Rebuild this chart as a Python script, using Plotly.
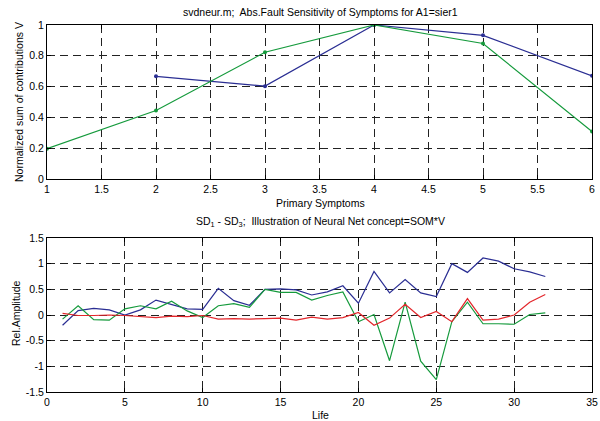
import plotly.graph_objects as go

# Top panel data
sym_x = [1, 2, 3, 4, 5, 6]
top_blue = [None, 0.667, 0.603, 1.0, 0.933, 0.67]
top_green = [0.197, 0.445, 0.823, 1.0, 0.88, 0.308]

# Bottom panel data
life = list(range(1, 33))
sd_blue = [-0.20, 0.085, 0.13, 0.10, 0.0, 0.10, 0.29, 0.21, 0.12, 0.11,
           0.52, 0.28, 0.19, 0.50, 0.51, 0.49, 0.39, 0.45, 0.57, 0.23,
           0.85, 0.43, 0.69, 0.43, 0.36, 1.0, 0.83, 1.11, 1.05, 0.90,
           0.84, 0.75]
sd_green = [-0.08, 0.18, -0.09, -0.10, 0.12, 0.18, 0.12, 0.27, 0.08, -0.05,
            0.18, 0.22, 0.15, 0.50, 0.44, 0.44, 0.29, 0.38, 0.45, -0.13,
            0.01, -0.89, 0.25, -0.90, -1.26, -0.13, 0.25, -0.17, -0.17, -0.18,
            0.01, 0.04]
sd_red = [0.03, -0.01, -0.01, 0.0, -0.01, -0.03, -0.05, -0.02, -0.03, -0.01,
          -0.08, -0.07, -0.08, -0.07, -0.06, -0.10, -0.04, -0.08, -0.05, 0.05,
          -0.20, -0.06, 0.21, -0.05, 0.07, -0.13, 0.32, -0.10, -0.08, 0.0,
          0.25, 0.40]

top_xticks = [1, 1.5, 2, 2.5, 3, 3.5, 4, 4.5, 5, 5.5, 6]
top_yticks = [0, 0.2, 0.4, 0.6, 0.8, 1]
bot_xticks = [0, 5, 10, 15, 20, 25, 30, 35]
bot_yticks = [-1.5, -1, -0.5, 0, 0.5, 1, 1.5]

BLUE = "#2a2e93"
GREEN = "#159a3c"
RED = "#e3262b"

fig = go.Figure()
fig.add_trace(go.Scatter(x=sym_x, y=top_blue, mode="lines+markers",
                         line=dict(color=BLUE, width=1.2),
                         marker=dict(size=4, color=BLUE), xaxis="x", yaxis="y",
                         connectgaps=False))
fig.add_trace(go.Scatter(x=sym_x, y=top_green, mode="lines+markers",
                         line=dict(color=GREEN, width=1.2),
                         marker=dict(size=4, color=GREEN), xaxis="x", yaxis="y"))
fig.add_trace(go.Scatter(x=life, y=sd_blue, mode="lines",
                         line=dict(color=BLUE, width=1.2), xaxis="x2", yaxis="y2"))
fig.add_trace(go.Scatter(x=life, y=sd_green, mode="lines",
                         line=dict(color=GREEN, width=1.2), xaxis="x2", yaxis="y2"))
fig.add_trace(go.Scatter(x=life, y=sd_red, mode="lines",
                         line=dict(color=RED, width=1.2), xaxis="x2", yaxis="y2"))

W, H = 600.0, 421.0
ML, MR, MT, MB = 47, 8, 25, 29
PH = H - MT - MB
PW = W - ML - MR


def ydom(top_px, bot_px):
    return [1 - (bot_px - MT) / PH, 1 - (top_px - MT) / PH]


def px_x(px):
    return (px - ML) / PW


def px_y(py):
    return 1 - (py - MT) / PH


FS = 10.5
axis_common = dict(showline=True, linecolor="black", linewidth=1, mirror="ticks",
                   ticks="inside", ticklen=4, tickcolor="black",
                   showgrid=True, gridcolor="#222222", gridwidth=1,
                   griddash="8px,5px", zeroline=False, automargin=False,
                   tickfont=dict(size=FS, color="black"))

fig.update_layout(
    width=600, height=421,
    margin=dict(l=ML, r=MR, t=MT, b=MB, autoexpand=False),
    paper_bgcolor="white", plot_bgcolor="white",
    showlegend=False,
    font=dict(family="Liberation Sans, Arial, sans-serif", size=FS, color="black"),
    xaxis=dict(axis_common, domain=[0, 1], range=[1, 6], tickvals=top_xticks,
               ticktext=[f"{v:g}" for v in top_xticks], anchor="y"),
    yaxis=dict(axis_common, domain=ydom(25, 179), range=[0, 1],
               tickvals=top_yticks, ticktext=[f"{v:g}" for v in top_yticks], anchor="x"),
    xaxis2=dict(axis_common, domain=[0, 1], range=[0, 35], tickvals=bot_xticks,
                ticktext=[f"{v:g}" for v in bot_xticks], anchor="y2"),
    yaxis2=dict(axis_common, domain=ydom(238, 392), range=[-1.5, 1.5],
                tickvals=bot_yticks, ticktext=[f"{v:g}" for v in bot_yticks], anchor="x2"),
    annotations=[
        dict(text="svdneur.m;  Abs.Fault Sensitivity of Symptoms for A1=sier1",
             xref="paper", yref="paper", x=px_x(320), y=px_y(12), showarrow=False,
             xanchor="center", yanchor="middle", font=dict(size=FS)),
        dict(text="Primary Symptoms",
             xref="paper", yref="paper", x=px_x(320), y=px_y(203), showarrow=False,
             xanchor="center", yanchor="middle", font=dict(size=FS)),
        dict(text="Normalized sum of contributions V", textangle=-90,
             xref="paper", yref="paper", x=px_x(19), y=px_y(102), showarrow=False,
             xanchor="center", yanchor="middle", font=dict(size=FS)),
        dict(text="SD<sub>1</sub> - SD<sub>3</sub>;  Illustration of Neural Net concept=SOM*V",
             xref="paper", yref="paper", x=px_x(320), y=px_y(222), showarrow=False,
             xanchor="center", yanchor="middle", font=dict(size=FS)),
        dict(text="Life",
             xref="paper", yref="paper", x=px_x(320), y=px_y(415), showarrow=False,
             xanchor="center", yanchor="middle", font=dict(size=FS)),
        dict(text="Rel.Amplitude", textangle=-90,
             xref="paper", yref="paper", x=px_x(16), y=px_y(313), showarrow=False,
             xanchor="center", yanchor="middle", font=dict(size=FS)),
    ],
)

fig.write_html("out.html", config={"displayModeBar": False},
               post_script="document.body.style.margin='0px';")
